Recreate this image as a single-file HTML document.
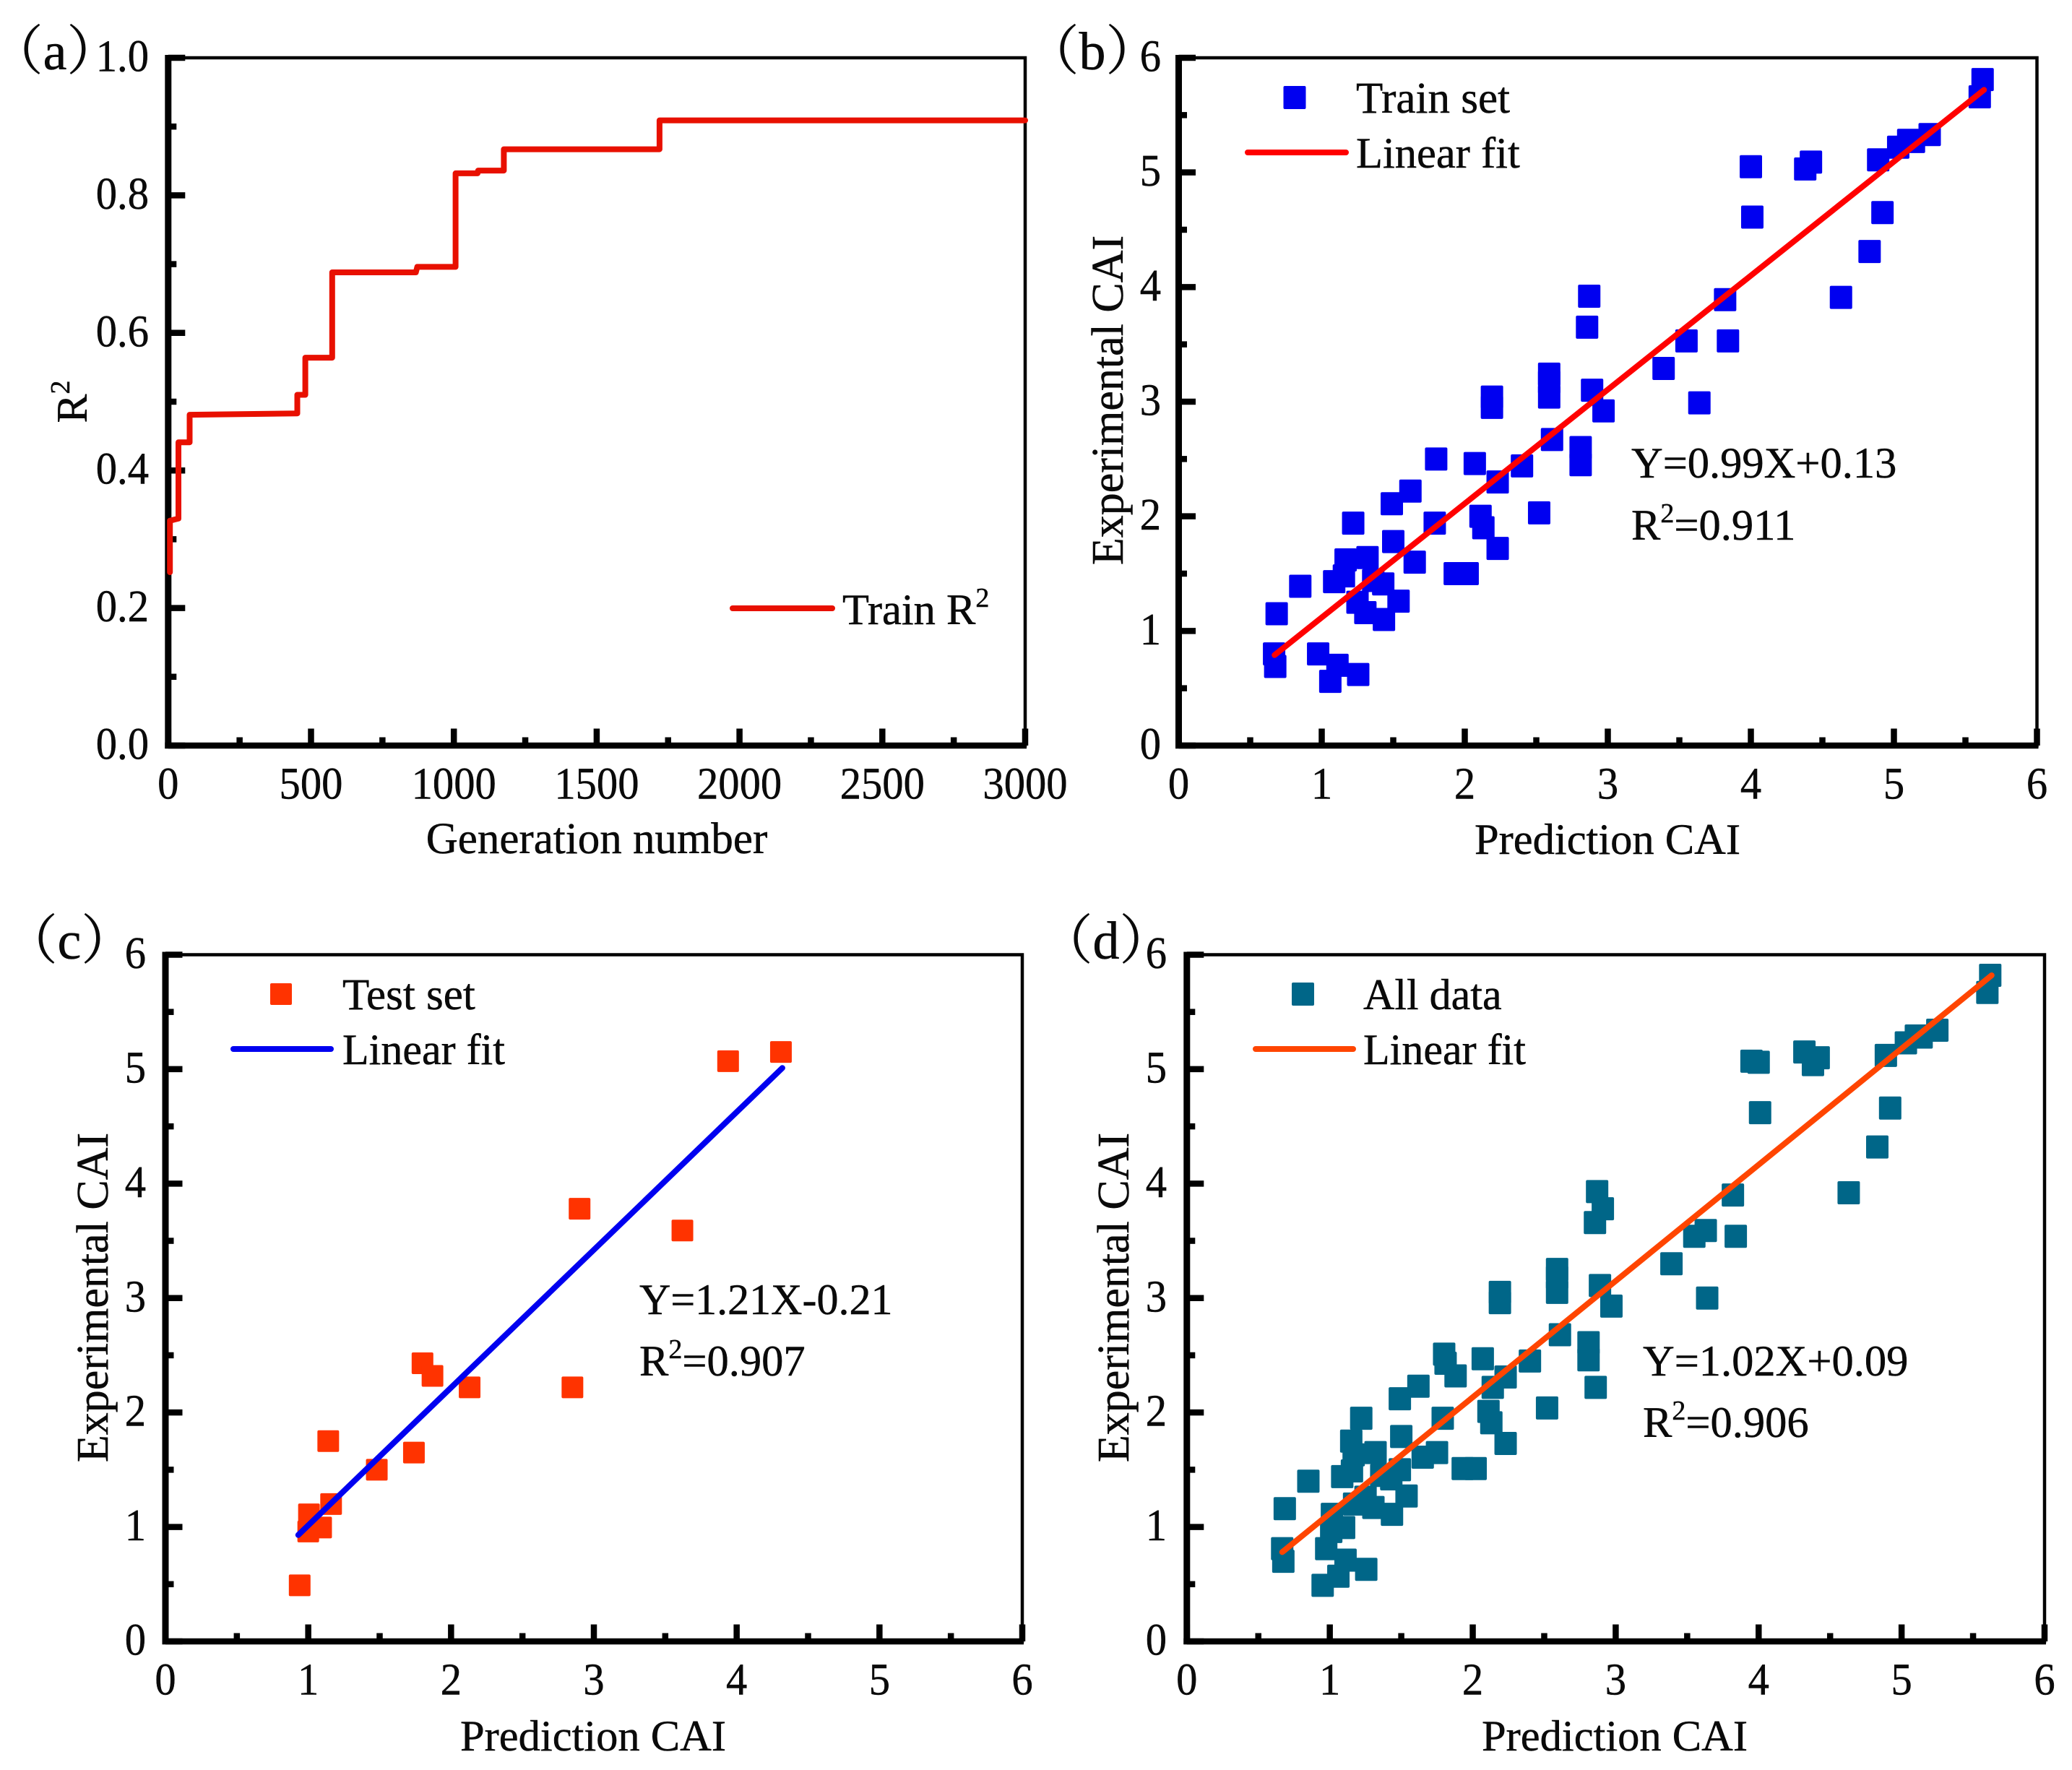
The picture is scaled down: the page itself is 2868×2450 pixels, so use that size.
<!DOCTYPE html>
<html lang="en">
<head>
<meta charset="utf-8">
<title>Model fit charts</title>
<style>
html,body{margin:0;padding:0;background:#fff;}
svg{display:block;}
text{font-family:"Liberation Serif","Noto Serif CJK SC",serif;fill:#0a0a0a;stroke:#0a0a0a;stroke-width:0.5px;}
</style>
</head>
<body>
<svg id="figure" xmlns="http://www.w3.org/2000/svg" width="2868" height="2450" viewBox="0 0 2868 2450">
<rect width="2868" height="2450" fill="#ffffff"/>
<g id="panel-a"></g>
<g id="panel-b"></g>
<g id="panel-c"></g>
<g id="panel-d"></g>

<text x="76" y="96" font-size="74" text-anchor="middle">（a）</text>
<text x="1512" y="96" font-size="74" text-anchor="middle">（b）</text>
<text x="96" y="1327" font-size="74" text-anchor="middle">（c）</text>
<text x="1531" y="1327" font-size="74" text-anchor="middle">（d）</text>

<text x="826" y="1181" font-size="61" text-anchor="middle">Generation number</text>
<text transform="translate(120 556) rotate(-90)" font-size="60" text-anchor="middle">R<tspan font-size="38" dy="-24">2</tspan></text>
<text x="1166" y="864" font-size="60.5">Train R<tspan font-size="38" dy="-24">2</tspan></text>

<text x="2225" y="1182" font-size="60.5" text-anchor="middle">Prediction CAI</text>
<text transform="translate(1554 554) rotate(-90)" font-size="62" text-anchor="middle">Experimental CAI</text>
<text x="1877" y="156" font-size="61">Train set</text>
<text x="1877" y="232" font-size="60.5">Linear fit</text>
<text x="2258" y="661" font-size="60.5">Y=0.99X+0.13</text>
<text x="2258" y="747" font-size="60.5">R<tspan font-size="38" dy="-24">2</tspan><tspan dy="24">=0.911</tspan></text>

<text x="821" y="2423" font-size="60.5" text-anchor="middle">Prediction CAI</text>
<text transform="translate(149 1796) rotate(-90)" font-size="62" text-anchor="middle">Experimental CAI</text>
<text x="474" y="1397" font-size="61">Test set</text>
<text x="474" y="1473" font-size="60">Linear fit</text>
<text x="885" y="1819" font-size="60">Y=1.21X-0.21</text>
<text x="885" y="1904" font-size="60.5">R<tspan font-size="38" dy="-24">2</tspan><tspan dy="24">=0.907</tspan></text>

<text x="2235" y="2423" font-size="60.5" text-anchor="middle">Prediction CAI</text>
<text transform="translate(1562 1796) rotate(-90)" font-size="62" text-anchor="middle">Experimental CAI</text>
<text x="1887" y="1397" font-size="60">All data</text>
<text x="1887" y="1473" font-size="60">Linear fit</text>
<text x="2274" y="1904" font-size="60.5">Y=1.02X+0.09</text>
<text x="2274" y="1989" font-size="60.5">R<tspan font-size="38" dy="-24">2</tspan><tspan dy="24">=0.906</tspan></text>
</svg>

<script>
// Panel (a): convergence curve (step vertices)
const generations = [6, 6, 36, 36, 75, 75, 452, 452, 480, 480, 574, 574, 867, 872, 1006, 1006, 1083, 1085, 1175, 1175, 1720, 1720, 3000];
const trainR2 = [0.252, 0.327, 0.330, 0.441, 0.441, 0.481, 0.483, 0.510, 0.510, 0.564, 0.564, 0.688, 0.688, 0.696, 0.696, 0.832, 0.832, 0.836, 0.836, 0.867, 0.867, 0.909, 0.909];
const genTicks = ["0", "500", "1000", "1500", "2000", "2500", "3000"];
const r2Ticks = ["0.0", "0.2", "0.4", "0.6", "0.8", "1.0"];

// Shared CAI tick labels for panels (b), (c), (d)
const caiTicks = ["0", "1", "2", "3", "4", "5", "6"];

// Panel (b): train set
const trainPredicted = [5.62, 5.60, 5.25, 5.10, 5.03, 5.14, 4.89, 4.42, 4.38, 4.00, 4.01, 4.92, 4.83, 4.63, 3.82, 3.84, 3.55, 3.39, 3.64, 2.87, 2.855, 2.59, 2.59, 2.59, 2.89, 2.97, 2.19, 2.19, 2.61, 2.81, 2.81, 1.80, 2.07, 2.40, 2.23, 1.62, 1.49, 2.52, 2.11, 2.13, 1.79, 1.22, 1.50, 2.23, 1.65, 1.93, 2.02, 0.85, 0.685, 0.667, 0.675, 0.975, 1.11, 1.06, 1.255, 1.167, 1.32, 1.155, 1.087, 1.43, 1.36, 1.25, 1.537, 1.305, 1.435];
const trainExperimental = [5.81, 5.66, 5.33, 5.28, 5.22, 5.27, 5.11, 5.09, 5.03, 5.05, 4.61, 4.65, 4.31, 3.91, 3.89, 3.53, 3.53, 3.29, 2.99, 3.92, 3.65, 3.24, 3.17, 3.04, 3.10, 2.92, 3.04, 2.95, 2.67, 2.60, 2.45, 2.50, 2.46, 2.44, 2.30, 2.22, 2.11, 2.03, 2.00, 1.90, 1.94, 1.94, 1.78, 1.72, 1.60, 1.50, 1.50, 1.39, 1.15, 0.80, 0.69, 0.80, 0.70, 0.56, 0.62, 1.62, 1.64, 1.48, 1.43, 1.41, 1.44, 1.25, 1.26, 1.16, 1.10];
const fitTrainX = [0.67, 5.63];
const fitTrainY = [0.79, 5.72];

// Panel (c): test set
const testPredicted = [4.31, 3.94, 2.90, 3.62, 1.80, 1.87, 2.13, 2.85, 1.14, 1.74, 1.48, 1.16, 1.005, 1.09, 1.00, 0.94];
const testExperimental = [5.15, 5.07, 3.78, 3.59, 2.43, 2.32, 2.22, 2.22, 1.75, 1.65, 1.50, 1.20, 1.11, 0.995, 0.96, 0.49];
const fitTestX = [0.93, 4.32];
const fitTestY = [0.93, 5.01];

// Panel (d): all data
const allPredicted = [5.62, 5.60, 5.25, 5.10, 5.03, 5.14, 4.89, 4.42, 4.38, 4.00, 4.01, 4.92, 4.83, 4.63, 3.82, 3.84, 3.55, 3.39, 3.64, 2.87, 2.855, 2.59, 2.59, 2.59, 2.89, 2.97, 2.19, 2.19, 2.61, 2.81, 2.81, 1.80, 2.07, 2.40, 2.23, 1.62, 1.49, 2.52, 2.11, 2.13, 1.79, 1.22, 1.50, 2.23, 1.65, 1.93, 2.02, 0.85, 0.685, 0.667, 0.675, 0.975, 1.11, 1.06, 1.255, 1.167, 1.32, 1.155, 1.087, 1.43, 1.36, 1.25, 1.537, 1.305, 1.435, 4.32, 3.95, 2.91, 3.63, 1.81, 1.88, 2.14, 2.86, 1.15, 1.75, 1.49, 1.17, 1.015, 1.10, 1.01, 0.95];
const allExperimental = [5.82, 5.67, 5.34, 5.29, 5.23, 5.28, 5.12, 5.10, 5.04, 5.06, 4.62, 4.66, 4.32, 3.92, 3.90, 3.54, 3.54, 3.30, 3.00, 3.93, 3.66, 3.25, 3.18, 3.05, 3.11, 2.93, 3.05, 2.96, 2.68, 2.61, 2.46, 2.51, 2.47, 2.45, 2.31, 2.23, 2.12, 2.04, 2.01, 1.91, 1.95, 1.95, 1.79, 1.73, 1.61, 1.51, 1.51, 1.40, 1.16, 0.81, 0.70, 0.81, 0.71, 0.57, 0.63, 1.63, 1.65, 1.49, 1.44, 1.42, 1.45, 1.26, 1.27, 1.17, 1.11, 5.15, 5.07, 3.78, 3.59, 2.43, 2.32, 2.22, 2.22, 1.75, 1.65, 1.50, 1.20, 1.11, 0.995, 0.96, 0.49];
const fitAllX = [0.667, 5.63];
const fitAllY = [0.78, 5.82];

const SVGNS = "http://www.w3.org/2000/svg";

function make(parent, tag, name, attrs) {
  const el = document.createElementNS(SVGNS, tag);
  
  
  for (const k in attrs) el.setAttribute(k, attrs[k]);
  parent.appendChild(el);
  return el;
}

function axes(group, box, xMax, yMax, xLabels, yLabels, labelRight, xStepMinor, yStepMinor, id) {
  const sx = v => box.left + (v / xMax) * (box.right - box.left);
  const sy = v => box.bottom - (v / yMax) * (box.bottom - box.top);

  make(group, 'rect', 'plot-frame-' + id, {x: box.left, y: box.top, width: box.right - box.left, height: box.bottom - box.top, fill: 'none', stroke: '#000', 'stroke-width': 4.5});
  make(group, 'line', 'y-axis-line-' + id, {x1: box.left, x2: box.left, y1: box.top - 4, y2: box.bottom + 4, stroke: '#000', 'stroke-width': 9});
  make(group, 'line', 'x-axis-line-' + id, {x1: box.left - 4.5, x2: box.right + 2, y1: box.bottom, y2: box.bottom, stroke: '#000', 'stroke-width': 8.5});

  const xMajor = xMax / (xLabels.length - 1);
  const nx = Math.round(xMax / xStepMinor);
  for (let i = 0; i <= nx; i++) {
    const v = i * xStepMinor;
    const major = i % 2 === 0;
    make(group, 'line', 'x-tick-' + id, {x1: sx(v), x2: sx(v), y1: box.bottom, y2: box.bottom - (major ? 23.5 : 11.5), stroke: '#000', 'stroke-width': 8.5});
  }
  const yMajor = yMax / (yLabels.length - 1);
  const ny = Math.round(yMax / yStepMinor);
  for (let i = 0; i <= ny; i++) {
    const v = i * yStepMinor;
    const major = i % 2 === 0;
    make(group, 'line', 'y-tick-' + id, {x1: box.left, x2: box.left + (major ? 23.5 : 11.5), y1: sy(v), y2: sy(v), stroke: '#000', 'stroke-width': 8.5});
  }
  xLabels.forEach((t, i) => {
    const lab = make(group, 'text', 'x-tick-label-' + id, {transform: 'translate(' + sx(i * xMajor) + ' ' + (box.bottom + 73.5) + ') scale(0.93 1)', 'font-size': 63, 'text-anchor': 'middle'});
    lab.textContent = t;
  });
  yLabels.forEach((t, i) => {
    const lab = make(group, 'text', 'y-tick-label-' + id, {transform: 'translate(' + labelRight + ' ' + (sy(i * yMajor) + 18.5) + ') scale(0.93 1)', 'font-size': 63, 'text-anchor': 'end'});
    lab.textContent = t;
  });
  return {sx, sy};
}

function scatter(group, scale, xs, ys, color, w, h, id) {
  xs.forEach((x, i) => {
    make(group, 'rect', 'point-' + id, {x: scale.sx(x) - w / 2, y: scale.sy(ys[i]) - h / 2, width: w, height: h, rx: 2, fill: color});
  });
}

function polyline(group, scale, xs, ys, color, width, name) {
  const pts = xs.map((x, i) => scale.sx(x).toFixed(1) + ',' + scale.sy(ys[i]).toFixed(1)).join(' ');
  make(group, 'polyline', name, {points: pts, fill: 'none', stroke: color, 'stroke-width': width, 'stroke-linecap': 'round', 'stroke-linejoin': 'round'});
}

function legend(group, markerX, markerY, w, h, markerColor, lineX1, lineX2, lineY, lineColor, id) {
  make(group, 'rect', 'legend-marker-' + id, {x: markerX - w / 2, y: markerY - h / 2, width: w, height: h, rx: 2, fill: markerColor});
  make(group, 'line', 'legend-line-' + id, {x1: lineX1, x2: lineX2, y1: lineY, y2: lineY, stroke: lineColor, 'stroke-width': 8, 'stroke-linecap': 'round'});
}

// Panel (a)
const gA = document.getElementById('panel-a');
const scA = axes(gA, {left: 232.8, right: 1419, top: 80, bottom: 1032}, 3000, 1, genTicks, r2Ticks, 206, 250, 0.1, 'a');
polyline(gA, scA, generations, trainR2, '#e81000', 8, 'train-r2-line');
make(gA, 'line', 'legend-line-a', {x1: 1014, x2: 1152, y1: 842, y2: 842, stroke: '#e81000', 'stroke-width': 8, 'stroke-linecap': 'round'});

// Panel (b)
const gB = document.getElementById('panel-b');
const scB = axes(gB, {left: 1631.5, right: 2819.5, top: 80, bottom: 1032}, 6, 6, caiTicks, caiTicks, 1607, 0.5, 0.5, 'b');
scatter(gB, scB, trainPredicted, trainExperimental, '#0000f0', 31, 32, 'train');
polyline(gB, scB, fitTrainX, fitTrainY, '#ff0000', 8, 'fit-line-b');
legend(gB, 1792, 135, 31, 32, '#0000f0', 1727, 1863, 211, '#ff0000', 'b');

// Panel (c)
const gC = document.getElementById('panel-c');
const scC = axes(gC, {left: 229, right: 1415, top: 1321.5, bottom: 2272}, 6, 6, caiTicks, caiTicks, 202, 0.5, 0.5, 'c');
scatter(gC, scC, testPredicted, testExperimental, '#ff3300', 30, 30, 'test');
polyline(gC, scC, fitTestX, fitTestY, '#0000f0', 8, 'fit-line-c');
legend(gC, 389, 1376, 30, 30, '#ff3300', 323, 458, 1452, '#0000f0', 'c');

// Panel (d)
const gD = document.getElementById('panel-d');
const scD = axes(gD, {left: 1642.8, right: 2830, top: 1321.5, bottom: 2272}, 6, 6, caiTicks, caiTicks, 1615, 0.5, 0.5, 'd');
scatter(gD, scD, allPredicted, allExperimental, '#006688', 31, 32, 'all');
polyline(gD, scD, fitAllX, fitAllY, '#ff4500', 8, 'fit-line-d');
legend(gD, 1803.5, 1376, 31, 32, '#006688', 1738, 1873, 1452, '#ff4500', 'd');
</script>
</body>
</html>
